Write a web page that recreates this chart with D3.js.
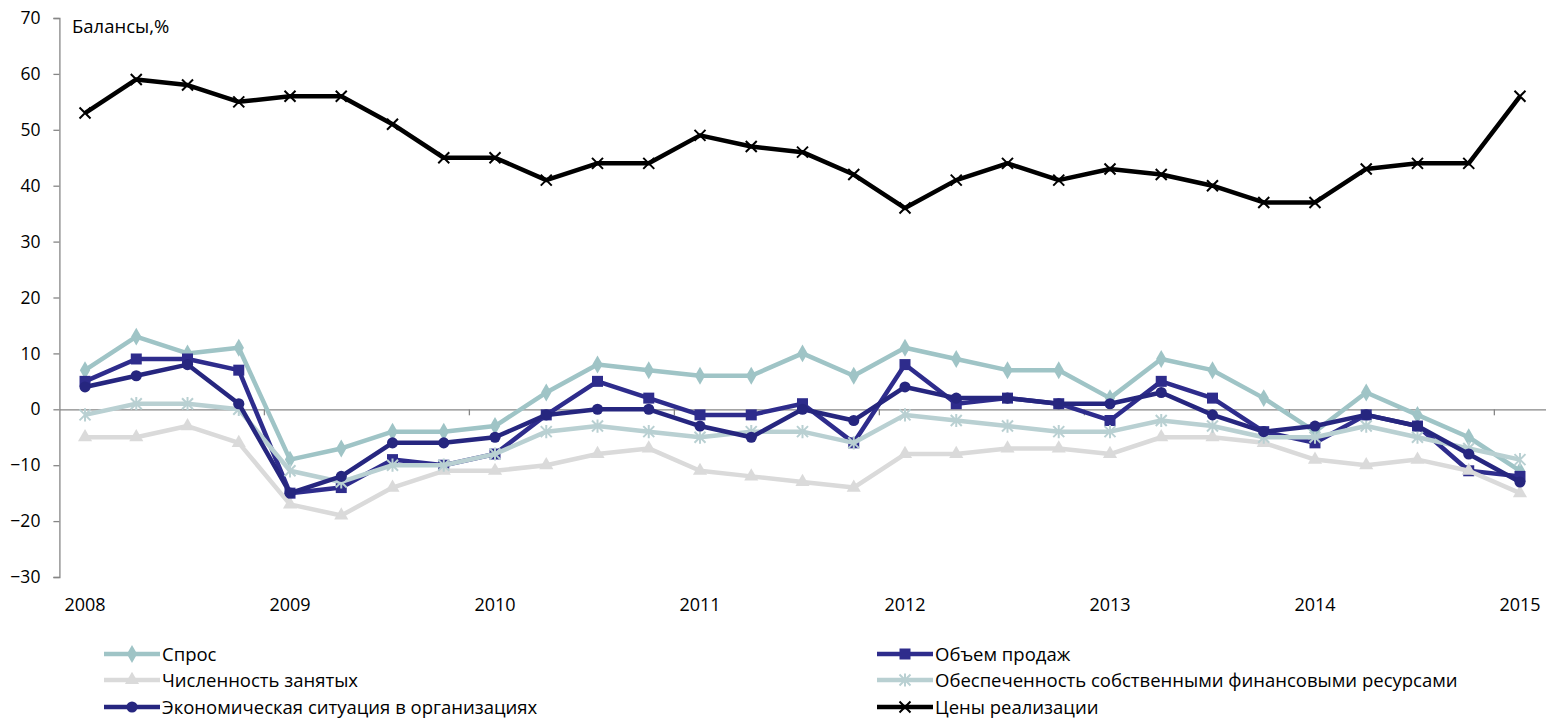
<!DOCTYPE html>
<html><head><meta charset="utf-8">
<script src="https://cdn.jsdelivr.net/npm/d3@7"></script>
<style>
body{margin:0;background:#fff;}
text{font-family:"Open Sans","Noto Sans",sans-serif;fill:#000;}
</style></head>
<body><svg id="c" width="1546" height="718"></svg>
<script>
const periods = d3.range(29).map(i => `${2008 + Math.floor(i/4)}Q${i%4+1}`);
const yearLabels = ["2008","2009","2010","2011","2012","2013","2014","2015"];
const yTicks = [70,60,50,40,30,20,10,0,-10,-20,-30];
const yTitle = "Балансы,%";

const spros      = [7,13,10,11,-9,-7,-4,-4,-3,3,8,7,6,6,10,6,11,9,7,7,2,9,7,2,-4,3,-1,-5,-11];
const obyem      = [5,9,9,7,-15,-14,-9,-10,-8,-1,5,2,-1,-1,1,-6,8,1,2,1,-2,5,2,-4,-6,-1,-3,-11,-12];
const chislen    = [-5,-5,-3,-6,-17,-19,-14,-11,-11,-10,-8,-7,-11,-12,-13,-14,-8,-8,-7,-7,-8,-5,-5,-6,-9,-10,-9,-11,-15];
const obespech   = [-1,1,1,0,-11,-13,-10,-10,-8,-4,-3,-4,-5,-4,-4,-6,-1,-2,-3,-4,-4,-2,-3,-5,-5,-3,-5,-7,-9];
const econ       = [4,6,8,1,-15,-12,-6,-6,-5,-1,0,0,-3,-5,0,-2,4,2,2,1,1,3,-1,-4,-3,-1,-3,-8,-13];
const tseny      = [53,59,58,55,56,56,51,45,45,41,44,44,49,47,46,42,36,41,44,41,43,42,40,37,37,43,44,44,56];

const series = [
  {name:"Спрос", values:spros, color:"#9fc4c6", marker:"diamond", w:4.5},
  {name:"Объем продаж", values:obyem, color:"#2e2c8c", marker:"square", w:4.5},
  {name:"Численность занятых", values:chislen, color:"#dadada", marker:"triangle", w:4.5},
  {name:"Обеспеченность собственными финансовыми ресурсами", values:obespech, color:"#b9d0d2", marker:"star", w:4.5},
  {name:"Экономическая ситуация в организациях", values:econ, color:"#26267f", marker:"circle", w:4.5},
  {name:"Цены реализации", values:tseny, color:"#000000", marker:"x", w:4.5}
];

const svg = d3.select("#c");
const L = 59.4, R = 1545.6, T = 18, B = 577;
const x = d3.scaleBand().domain(periods).range([L, R]);
const y = d3.scaleLinear().domain([-30, 70]).range([B, T]);
const cx = p => x(p) + x.bandwidth()/2;

const ya = svg.append("g").attr("transform", `translate(${L},0)`)
  .call(d3.axisLeft(y).tickValues(yTicks).tickSize(6).tickFormat(d3.format("d")));
ya.select(".domain").attr("stroke", "#868686").attr("stroke-width", 1.3);
ya.selectAll(".tick line").attr("stroke", "#868686").attr("stroke-width", 1.3);
ya.selectAll(".tick text").attr("font-size", 17.5).attr("fill", "#000").attr("x", -19)
  .attr("font-family", "Open Sans, Noto Sans, sans-serif");

const xa = svg.append("g").attr("transform", `translate(0,${y(0)})`)
  .call(d3.axisBottom(x).tickValues([]).tickSizeOuter(0));
xa.select(".domain").attr("stroke", "#868686").attr("stroke-width", 1.3);
const tickIdx = [4,8,12,16,20,24,28];
svg.append("g").selectAll("line").data(tickIdx).join("line")
  .attr("x1", i => x(periods[i])).attr("x2", i => x(periods[i]))
  .attr("y1", y(0)).attr("y2", y(0) + 6).attr("stroke", "#868686").attr("stroke-width", 1.3);
svg.append("g").selectAll("text").data(yearLabels).join("text")
  .attr("x", (d,i) => cx(periods[i*4])).attr("y", 611)
  .attr("text-anchor", "middle").attr("font-size", 18).text(d => d);

svg.append("text").attr("x", 72).attr("y", 33).attr("font-size", 18.5).text(yTitle);

function markerPath(type, s) {
  switch(type){
    case "diamond": return d3.symbol(d3.symbolDiamond, s*s*0.55)();
    case "square": return d3.symbol(d3.symbolSquare, s*s)();
    case "triangle": return d3.symbol(d3.symbolTriangle, s*s*0.6)();
    case "circle": return d3.symbol(d3.symbolCircle, s*s*0.8)();
    case "x": { const h=s/2; return `M${-h},${-h}L${h},${h}M${-h},${h}L${h},${-h}`; }
    case "star": { const h=s/2; return `M${-h},${-h}L${h},${h}M${-h},${h}L${h},${-h}M0,${-h*1.2}L0,${h*1.2}`; }
  }
}
function drawMarker(g, type, color, px, py) {
  const sizes = {diamond:13,square:11,triangle:12,circle:11,x:11,star:11};
  const p = g.append("path").attr("d", markerPath(type, sizes[type])).attr("transform", `translate(${px},${py})`);
  if (type === "x" || type === "star") p.attr("fill","none").attr("stroke", color).attr("stroke-width", 2);
  else p.attr("fill", color);
}

const line = d3.line().x((d,i) => cx(periods[i])).y(d => y(d));
series.forEach(s => {
  const g = svg.append("g");
  g.append("path").datum(s.values).attr("d", line).attr("fill","none")
    .attr("stroke", s.color).attr("stroke-width", s.w).attr("stroke-linejoin","round");
  s.values.forEach((v,i) => drawMarker(g, s.marker, s.color, cx(periods[i]), y(v)));
});

const legPos = [[104,654],[877,654],[104,680],[877,680],[104,707],[877,707]];
series.forEach((s,i) => {
  const [lx, ly] = legPos[i];
  const g = svg.append("g");
  g.append("line").attr("x1", lx).attr("x2", lx+56).attr("y1", ly).attr("y2", ly)
    .attr("stroke", s.color).attr("stroke-width", s.w);
  drawMarker(g, s.marker, s.color, lx+28, ly);
  g.append("text").attr("x", lx+58).attr("y", ly+6.5).attr("font-size", 18.5).text(s.name);
});
</script></body></html>
